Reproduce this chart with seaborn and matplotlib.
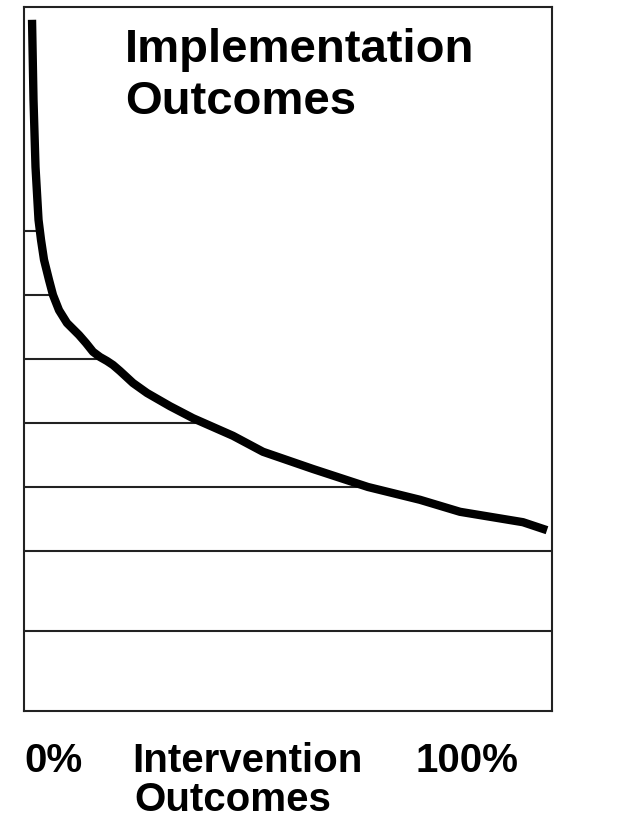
import numpy as np
import pandas as pd
import matplotlib
matplotlib.use('Agg')
import matplotlib.pyplot as plt
import seaborn as sns

# curve (x: % intervention outcomes, y: implementation level)
intervention = [1.52, 1.80, 2.18, 2.75, 3.22, 3.79, 4.73, 5.49, 6.63, 8.14, 10.42, 11.74,
                13.07, 14.39, 15.72, 16.86, 18.18, 20.64, 23.30, 27.65, 32.01, 39.58,
                45.27, 54.73, 65.15, 75.0, 82.58, 94.5, 99.05]
implementation = [86.4, 76.4, 68.0, 61.4, 58.9, 56.4, 53.9, 52.0, 50.1, 48.5, 47.0, 46.0,
                  44.9, 44.25, 43.75, 43.25, 42.5, 41.0, 39.75, 38.1, 36.6, 34.4,
                  32.4, 30.25, 28.0, 26.4, 24.9, 23.6, 22.6]
levels = [10, 20, 28, 36, 44, 52, 60]

df = pd.DataFrame({'Intervention': intervention, 'Implementation': implementation})

sns.set_style('white')
plt.rcParams['font.family'] = ['Liberation Sans', 'DejaVu Sans']
plt.rcParams['text.color'] = 'black'

fig = plt.figure(figsize=(6.2, 8.21), dpi=100)
ax = fig.add_axes([24 / 620, 1 - 711 / 821, 528 / 620, 704 / 821])

# horizontal lines run from the left edge up to the curve
xs = np.array(intervention)
ys = np.array(implementation)
for lv in levels:
    if lv < ys.min():
        x_end = 100
    else:
        x_end = np.interp(lv, ys[::-1], xs[::-1])
    ax.hlines(lv, 0, x_end, color='#222222', lw=1.5)

sns.lineplot(data=df, x='Intervention', y='Implementation', ax=ax,
             color='black', lw=6, sort=False, solid_capstyle='butt',
             solid_joinstyle='round')

ax.set_xlim(0, 100)
ax.set_ylim(0, 88)
ax.set_xticks([])
ax.set_yticks([])
ax.set_xlabel('')
ax.set_ylabel('')
for sp in ax.spines.values():
    sp.set_color('#222222')
    sp.set_linewidth(1.5)

def fy(py):
    return 1 - py / 821

fig.text(125 / 620, fy(62), 'Implementation', fontsize=34, fontweight='bold', va='baseline')
fig.text(125 / 620, fy(114), 'Outcomes', fontsize=34, fontweight='bold', va='baseline')

fs = 29
fig.text(24 / 620, fy(772), '0%', fontsize=fs, fontweight='bold', va='baseline')
fig.text(132 / 620, fy(772), 'Intervention', fontsize=fs, fontweight='bold', va='baseline')
fig.text(134 / 620, fy(811), 'Outcomes', fontsize=fs, fontweight='bold', va='baseline')
fig.text(415 / 620, fy(772), '100%', fontsize=fs, fontweight='bold', va='baseline')

plt.savefig('out.png', dpi=100)
